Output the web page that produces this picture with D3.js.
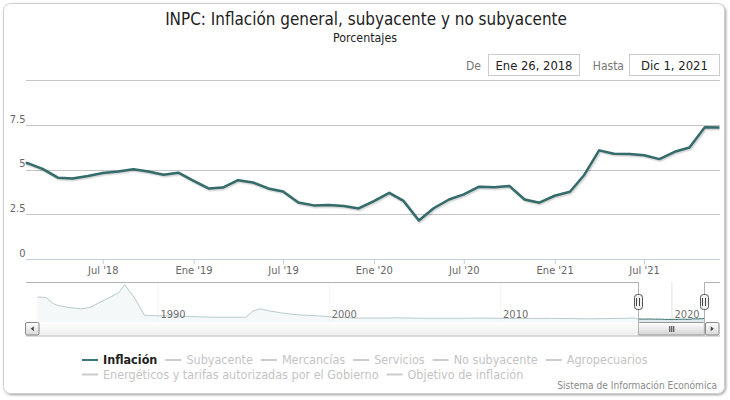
<!DOCTYPE html>
<html><head><meta charset="utf-8">
<script src="https://cdn.jsdelivr.net/npm/d3@7"></script>
<style>body{margin:0;background:#fff}svg{display:block}</style>
</head><body>
<svg id="c" width="730" height="400"></svg>
<script>
// ---------- DATA ----------
const months = ["2018-01","2018-02","2018-03","2018-04","2018-05","2018-06","2018-07","2018-08","2018-09","2018-10","2018-11","2018-12",
"2019-01","2019-02","2019-03","2019-04","2019-05","2019-06","2019-07","2019-08","2019-09","2019-10","2019-11","2019-12",
"2020-01","2020-02","2020-03","2020-04","2020-05","2020-06","2020-07","2020-08","2020-09","2020-10","2020-11","2020-12",
"2021-01","2021-02","2021-03","2021-04","2021-05","2021-06","2021-07","2021-08","2021-09","2021-10","2021-11","2021-12"];
const inflacion = [5.55,5.34,5.04,4.55,4.51,4.65,4.81,4.90,5.02,4.90,4.72,4.83,
4.37,3.94,4.00,4.41,4.28,3.95,3.78,3.16,3.00,3.02,2.97,2.83,
3.24,3.70,3.25,2.15,2.84,3.33,3.62,4.05,4.01,4.09,3.33,3.15,
3.54,3.76,4.67,6.08,5.89,5.88,5.81,5.59,6.00,6.24,7.37,7.36];

// navigator history (read from the overview strip)
const navMonths = ["1983-01","1983-07","1984-01","1984-05","1984-11","1985-07","1986-01","1986-08","1987-03","1987-10","1988-02","1988-09","1989-04",
"1990-01","1991-01","1991-12","1993-04","1995-03","1995-08","1996-01","1996-08","1997-04","1998-04","1999-06","2000-06","2001-10","2003-06","2004-01",
"2005-06","2008-01","2009-01","2010-06","2013-01","2015-06","2017-06","2017-12"];
const navValues = [117,115,79,72,64,57,62,87,113,139,181,113,24,
22,20,18,14,14,46,57,46,36,26,21,14,10,10,11,
9,9,10,8,8,6,9,10];

const yTicks = [0, 2.5, 5, 7.5, 10];
const yTickLabels = ["0","2.5","5","7.5",""];
const xTickDates = ["2018-07-01","2019-01-01","2019-07-01","2020-01-01","2020-07-01","2021-01-01","2021-07-01"];
const monthAbbr = ["Ene","Feb","Mar","Abr","May","Jun","Jul","Ago","Sep","Oct","Nov","Dic"];
const navTickYears = ["1990","2000","2010","2020"];
const legendNames = ["Inflación","Subyacente","Mercancías","Servicios","No subyacente","Agropecuarios","Energéticos y tarifas autorizadas por el Gobierno","Objetivo de inflación"];
const legendVisible = [true,false,false,false,false,false,false,false];
const rangeFrom = "Ene 26, 2018", rangeTo = "Dic 1, 2021";
const titleText = "INPC: Inflación general, subyacente y no subyacente";
const subtitleText = "Porcentajes";
const creditText = "Sistema de Información Económica";

// ---------- SETUP ----------
const FONT = '"DejaVu Sans Condensed","DejaVu Sans",sans-serif';
const LINE = "#346b6b";
const svg = d3.select("#c").attr("font-family", FONT);
const defs = svg.append("defs");
const fs = defs.append("filter").attr("id","cardShadow").attr("x","-3%").attr("y","-3%").attr("width","106%").attr("height","106%");
fs.append("feDropShadow").attr("dx",1.2).attr("dy",1.2).attr("stdDeviation",1.3).attr("flood-color","#000").attr("flood-opacity",0.35);

function fit(sel, target){
  const w = sel.node().getComputedTextLength();
  const f = parseFloat(sel.attr("font-size"));
  if (w > 0) sel.attr("font-size", f * target / w);
  return sel;
}
function grad(id, stops){
  const g = defs.append("linearGradient").attr("id",id).attr("x1",0).attr("y1",0).attr("x2",0).attr("y2",1);
  stops.forEach(s=>g.append("stop").attr("offset",s[0]).attr("stop-color",s[1]));
}
grad("gTrack",[[0,"#ffffff"],[1,"#eeeeee"]]);
grad("gBtn",[[0,"#ffffff"],[1,"#d8d8d8"]]);
grad("gThumb",[[0,"#ffffff"],[1,"#d4d4d4"]]);

// card
svg.append("rect").attr("x",3.5).attr("y",3.5).attr("width",721).attr("height",390).attr("rx",7)
  .attr("fill","#fff").attr("stroke","#cfcfcf").attr("filter","url(#cardShadow)");

// titles
fit(svg.append("text").attr("x",366).attr("y",25).attr("text-anchor","middle").attr("font-size",16).attr("fill","#222").text(titleText), 402);
fit(svg.append("text").attr("x",365).attr("y",42).attr("text-anchor","middle").attr("font-size",12).attr("fill","#222").text(subtitleText), 64);

// range selector
svg.append("text").attr("x",481).attr("y",69.5).attr("text-anchor","end").attr("font-size",12).attr("fill","#777").text("De");
svg.append("rect").attr("x",488.5).attr("y",54.5).attr("width",91).attr("height",21).attr("fill","#fff").attr("stroke","#cccccc");
const t1 = svg.append("text").attr("x",534).attr("y",69.5).attr("text-anchor","middle").attr("font-size",12).attr("fill","#222").text(rangeFrom);
fit(t1, 77);
svg.append("text").attr("x",624).attr("y",69.5).attr("text-anchor","end").attr("font-size",12).attr("fill","#777").text("Hasta");
svg.append("rect").attr("x",629.5).attr("y",54.5).attr("width",90).attr("height",21).attr("fill","#fff").attr("stroke","#cccccc");
const t2 = svg.append("text").attr("x",674.5).attr("y",69.5).attr("text-anchor","middle").attr("font-size",12).attr("fill","#222").text(rangeTo);
fit(t2, 67);

// ---------- MAIN PLOT ----------
const parseM = d3.timeParse("%Y-%m");
const parseD = d3.timeParse("%Y-%m-%d");
const data = months.map((m,i)=>({d:parseM(m), v:inflacion[i]}));
const x = d3.scaleTime().domain([new Date(2018,0,26), new Date(2021,11,1)]).range([25.7, 719.6]);
const y = d3.scaleLinear().domain([0,10]).range([259, 80.3]);

const yAxis = d3.axisLeft(y).tickValues(yTicks).tickSize(-694).tickFormat((d,i)=>yTickLabels[i]);
const gy = svg.append("g").attr("transform","translate(26,0)").call(yAxis);
gy.select(".domain").remove();
gy.selectAll(".tick line").attr("stroke","#c4c4c4").attr("shape-rendering","crispEdges");
gy.selectAll(".tick text").attr("x",-0.5).attr("dy","-0.25em").attr("font-size",11).attr("fill","#666").attr("font-family",FONT);
gy.selectAll(".tick").filter(d=>d===0).select("line").remove();

const xAxis = d3.axisBottom(x).tickValues(xTickDates.map(parseD)).tickSizeInner(5).tickSizeOuter(0).tickPadding(2)
  .tickFormat(d=>monthAbbr[d.getMonth()]+" '"+String(d.getFullYear()).slice(2));
const gx = svg.append("g").attr("transform","translate(0,259)").call(xAxis);
gx.select(".domain").attr("stroke","#C0D0E0").attr("d","M26,0.5H720");
gx.selectAll(".tick line").attr("stroke","#C0D0E0");
gx.selectAll(".tick text").attr("font-size",11).attr("fill","#666").attr("font-family",FONT);

defs.append("clipPath").attr("id","plotClip").append("rect").attr("x",25.7).attr("y",70).attr("width",694).attr("height",200);
const line = d3.line().x(d=>x(d.d)).y(d=>y(d.v));
const pg = svg.append("g").attr("clip-path","url(#plotClip)");
pg.append("path").datum(data).attr("d",line).attr("fill","none").attr("stroke","rgba(0,0,0,0.06)").attr("stroke-width",5).attr("transform","translate(1,1)").attr("stroke-linejoin","round");
pg.append("path").datum(data).attr("d",line).attr("fill","none").attr("stroke","rgba(0,0,0,0.1)").attr("stroke-width",3).attr("transform","translate(1,1)").attr("stroke-linejoin","round");
pg.append("path").datum(data).attr("d",line).attr("fill","none").attr("stroke",LINE).attr("stroke-width",2.5).attr("stroke-linejoin","round");

// ---------- NAVIGATOR ----------
const navTop = 282, navBot = 322;
const nx = d3.scaleTime().domain([new Date(1982,4,2), new Date(2022,10,2)]).range([26,720]);
const ny = d3.scaleLinear().domain([0,180]).range([320, 284.7]);
const navData = navMonths.map((m,i)=>({d:parseM(m), v:navValues[i]})).concat(data);

const navAxis = d3.axisBottom(nx).tickValues(navTickYears.map(s=>new Date(+s,0,1))).tickSize(navBot-navTop).tickFormat(d=>String(d.getFullYear()));
const gn = svg.append("g").attr("transform","translate(0,"+navTop+")").call(navAxis);
gn.select(".domain").remove();
gn.selectAll(".tick line").attr("stroke","#e2e2e2");
gn.selectAll(".tick text").remove();

defs.append("clipPath").attr("id","navClip").append("rect").attr("x",26).attr("y",navTop).attr("width",694).attr("height",navBot-navTop);
const ng = svg.append("g").attr("clip-path","url(#navClip)");
ng.append("path").datum(navData).attr("d",d3.area().x(d=>nx(d.d)).y0(navBot).y1(d=>ny(d.v))).attr("fill","#c6d9d9").attr("fill-opacity",0.55);
ng.append("path").datum(navData).attr("d",d3.line().x(d=>nx(d.d)).y(d=>ny(d.v))).attr("fill","none").attr("stroke",LINE).attr("stroke-width",1);

const selL = nx(new Date(2018,0,26)), selR = nx(new Date(2021,11,1));
ng.append("rect").attr("x",26).attr("y",navTop).attr("width",selL-26).attr("height",navBot-navTop).attr("fill","#fff").attr("fill-opacity",0.65);
ng.append("rect").attr("x",selR).attr("y",navTop).attr("width",720-selR).attr("height",navBot-navTop).attr("fill","#fff").attr("fill-opacity",0.65);

// navigator axis labels (on top of series)
svg.append("g").selectAll("text").data(navTickYears).join("text")
  .attr("x",s=>nx(new Date(+s,0,1))+3).attr("y",317.5).attr("font-size",11).attr("fill","#707070").text(s=>s);

// scrollbar
const sbTop = 322, sbH = 13.5;
svg.append("rect").attr("x",39).attr("y",sbTop).attr("width",666).attr("height",sbH).attr("fill","url(#gTrack)");
svg.append("line").attr("x1",26).attr("x2",720).attr("y1",sbTop+sbH+0.5).attr("y2",sbTop+sbH+0.5).attr("stroke","#bbb");
svg.append("rect").attr("x",Math.round(selL)+0.5).attr("y",sbTop+0.5).attr("width",selR-selL).attr("height",sbH-1).attr("rx",1)
  .attr("fill","url(#gThumb)").attr("stroke","#999");
[-2,0,2].forEach(o=>svg.append("line").attr("x1",(selL+selR)/2+o+0.5).attr("x2",(selL+selR)/2+o+0.5).attr("y1",sbTop+4).attr("y2",sbTop+10).attr("stroke","#333"));
// buttons
[[25.5,"L"],[705.5,"R"]].forEach(([bx,dir])=>{
  svg.append("rect").attr("x",bx).attr("y",sbTop+0.5).attr("width",13.5).attr("height",sbH-1).attr("rx",1.5).attr("fill","url(#gBtn)").attr("stroke","#888");
  const cx = bx+6.75, cy = sbTop+sbH/2;
  const p = dir==="L" ? `M${cx+1.5},${cy-2.5}L${cx-1.5},${cy}L${cx+1.5},${cy+2.5}Z` : `M${cx-1.5},${cy-2.5}L${cx+1.5},${cy}L${cx-1.5},${cy+2.5}Z`;
  svg.append("path").attr("d",p).attr("fill","#444");
});
// outline
svg.append("path").attr("d",`M26,${navTop+0.5}H${Math.round(selL)+0.5}V${sbTop+sbH}M${Math.round(selR)+0.5},${sbTop+sbH}V${navTop+0.5}H720`)
  .attr("fill","none").attr("stroke","#b2b2b2");
// handles
[selL, selR].forEach(hx=>{
  const r = Math.round(hx);
  svg.append("rect").attr("x",r-3.5).attr("y",294.5).attr("width",8).attr("height",15).attr("rx",3).attr("fill","#f2f2f2").attr("stroke","#555");
  [-1,2].forEach(o=>svg.append("line").attr("x1",r+o-0.5).attr("x2",r+o-0.5).attr("y1",298).attr("y2",306).attr("stroke","#444"));
});

// ---------- LEGEND ----------
const rows = [[0,1,2,3,4,5],[6,7]];
const legY = [360, 374.5];
const lg = svg.append("g");
const probe = lg.append("text").attr("font-family",FONT);
function tw(s, f, bold){ probe.attr("font-size",f).attr("font-weight",bold?"bold":"normal").text(s); return probe.node().getComputedTextLength(); }
const fixedRow1 = rows[0].length*21 + (rows[0].length-1)*8;
const row1w = rows[0].reduce((a,i)=>a+tw(legendNames[i],12,legendVisible[i]),0);
const legFs = 12 * (566-fixedRow1)/row1w;
rows.forEach((row,ri)=>{
  let cx = 82;
  row.forEach(i=>{
    const on = legendVisible[i];
    const w = tw(legendNames[i], legFs, on);
    lg.append("line").attr("x1",cx).attr("x2",cx+16).attr("y1",legY[ri]).attr("y2",legY[ri]).attr("stroke",on?"#3a7777":"#cccccc").attr("stroke-width",2);
    lg.append("text").attr("x",cx+21).attr("y",legY[ri]+4.2).attr("font-size",legFs).attr("fill",on?"#222":"#c4c4c4")
      .attr("font-weight",on?"bold":"normal").text(legendNames[i]);
    cx += 21 + w + 8;
  });
});
probe.remove();

// credits
fit(svg.append("text").attr("x",717).attr("y",389).attr("text-anchor","end").attr("font-size",9).attr("fill","#8a8a8a").text(creditText), 160);
</script>
</body></html>
